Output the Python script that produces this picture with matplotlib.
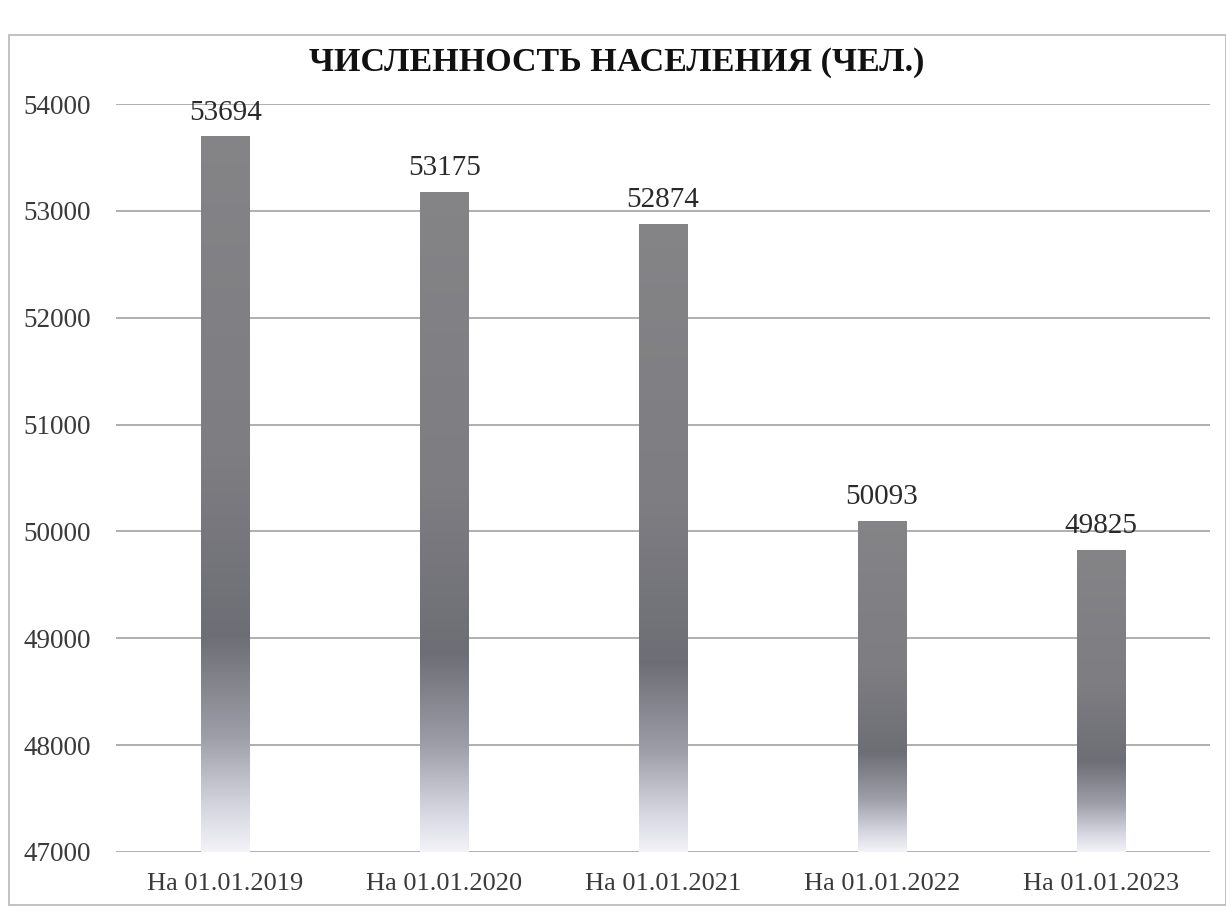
import numpy as np
import matplotlib.pyplot as plt
from matplotlib.colors import LinearSegmentedColormap
from matplotlib.patches import Rectangle

categories = ['На 01.01.2019', 'На 01.01.2020', 'На 01.01.2021',
              'На 01.01.2022', 'На 01.01.2023']
population = [53694, 53175, 52874, 50093, 49825]
y_ticks = [47000, 48000, 49000, 50000, 51000, 52000, 53000, 54000]
title = 'ЧИСЛЕННОСТЬ НАСЕЛЕНИЯ (ЧЕЛ.)'

plt.rcParams['font.family'] = ['Liberation Serif', 'DejaVu Serif']

# gradient along each bar: pale at the base, darkest in the lower third
bar_cmap = LinearSegmentedColormap.from_list('bar_grad', [
    (0.00, (0.95, 0.95, 0.97)),
    (0.06, (0.84, 0.84, 0.88)),
    (0.16, (0.62, 0.62, 0.66)),
    (0.30, (0.43, 0.43, 0.46)),
    (0.55, (0.49, 0.49, 0.51)),
    (1.00, (0.52, 0.52, 0.53)),
])

fig = plt.figure(figsize=(12.26, 9.15), dpi=100)
ax = fig.add_axes([0.0946, 0.0689, 0.8924, 0.8174])

ymin, ymax = y_ticks[0], y_ticks[-1]
width = 0.22
grad = np.linspace(0, 1, 256).reshape(-1, 1)
for i, v in enumerate(population):
    bars = ax.bar(i, v - ymin, bottom=ymin, width=width, color='none', zorder=2)
    ax.imshow(grad, cmap=bar_cmap, origin='lower', aspect='auto',
              extent=[i - width / 2, i + width / 2, ymin, v], zorder=2,
              clip_path=bars[0], interpolation='bilinear')
    ax.annotate(str(v), (i, v), xytext=(0, 8), textcoords='offset points',
                ha='center', va='bottom', fontsize=21, color='#2a2a2a')

ax.set_xlim(-0.5, len(categories) - 0.5)
ax.set_ylim(ymin, ymax)
ax.set_yticks(y_ticks)
ax.set_xticks(range(len(categories)))
ax.set_xticklabels(categories)
ax.grid(axis='y', color='#9a9a9a', linewidth=1.1, zorder=1)
ax.set_axisbelow(True)
for s in ax.spines.values():
    s.set_visible(False)
ax.tick_params(axis='both', length=0, colors='#3a3a3a')
ax.tick_params(axis='x', pad=15, labelsize=19)
ax.tick_params(axis='y', pad=18, labelsize=19.5)

fig.text(0.503, 0.932, title, ha='center', va='center',
         fontsize=24.5, fontweight='bold', color='#111111')

# chart frame
fig.patches.append(Rectangle((0.007, 0.011), 0.993, 0.951, transform=fig.transFigure,
                             fill=False, edgecolor='#b8b8b8', linewidth=1.2))

fig.savefig('out.png', dpi=100, facecolor='white')
